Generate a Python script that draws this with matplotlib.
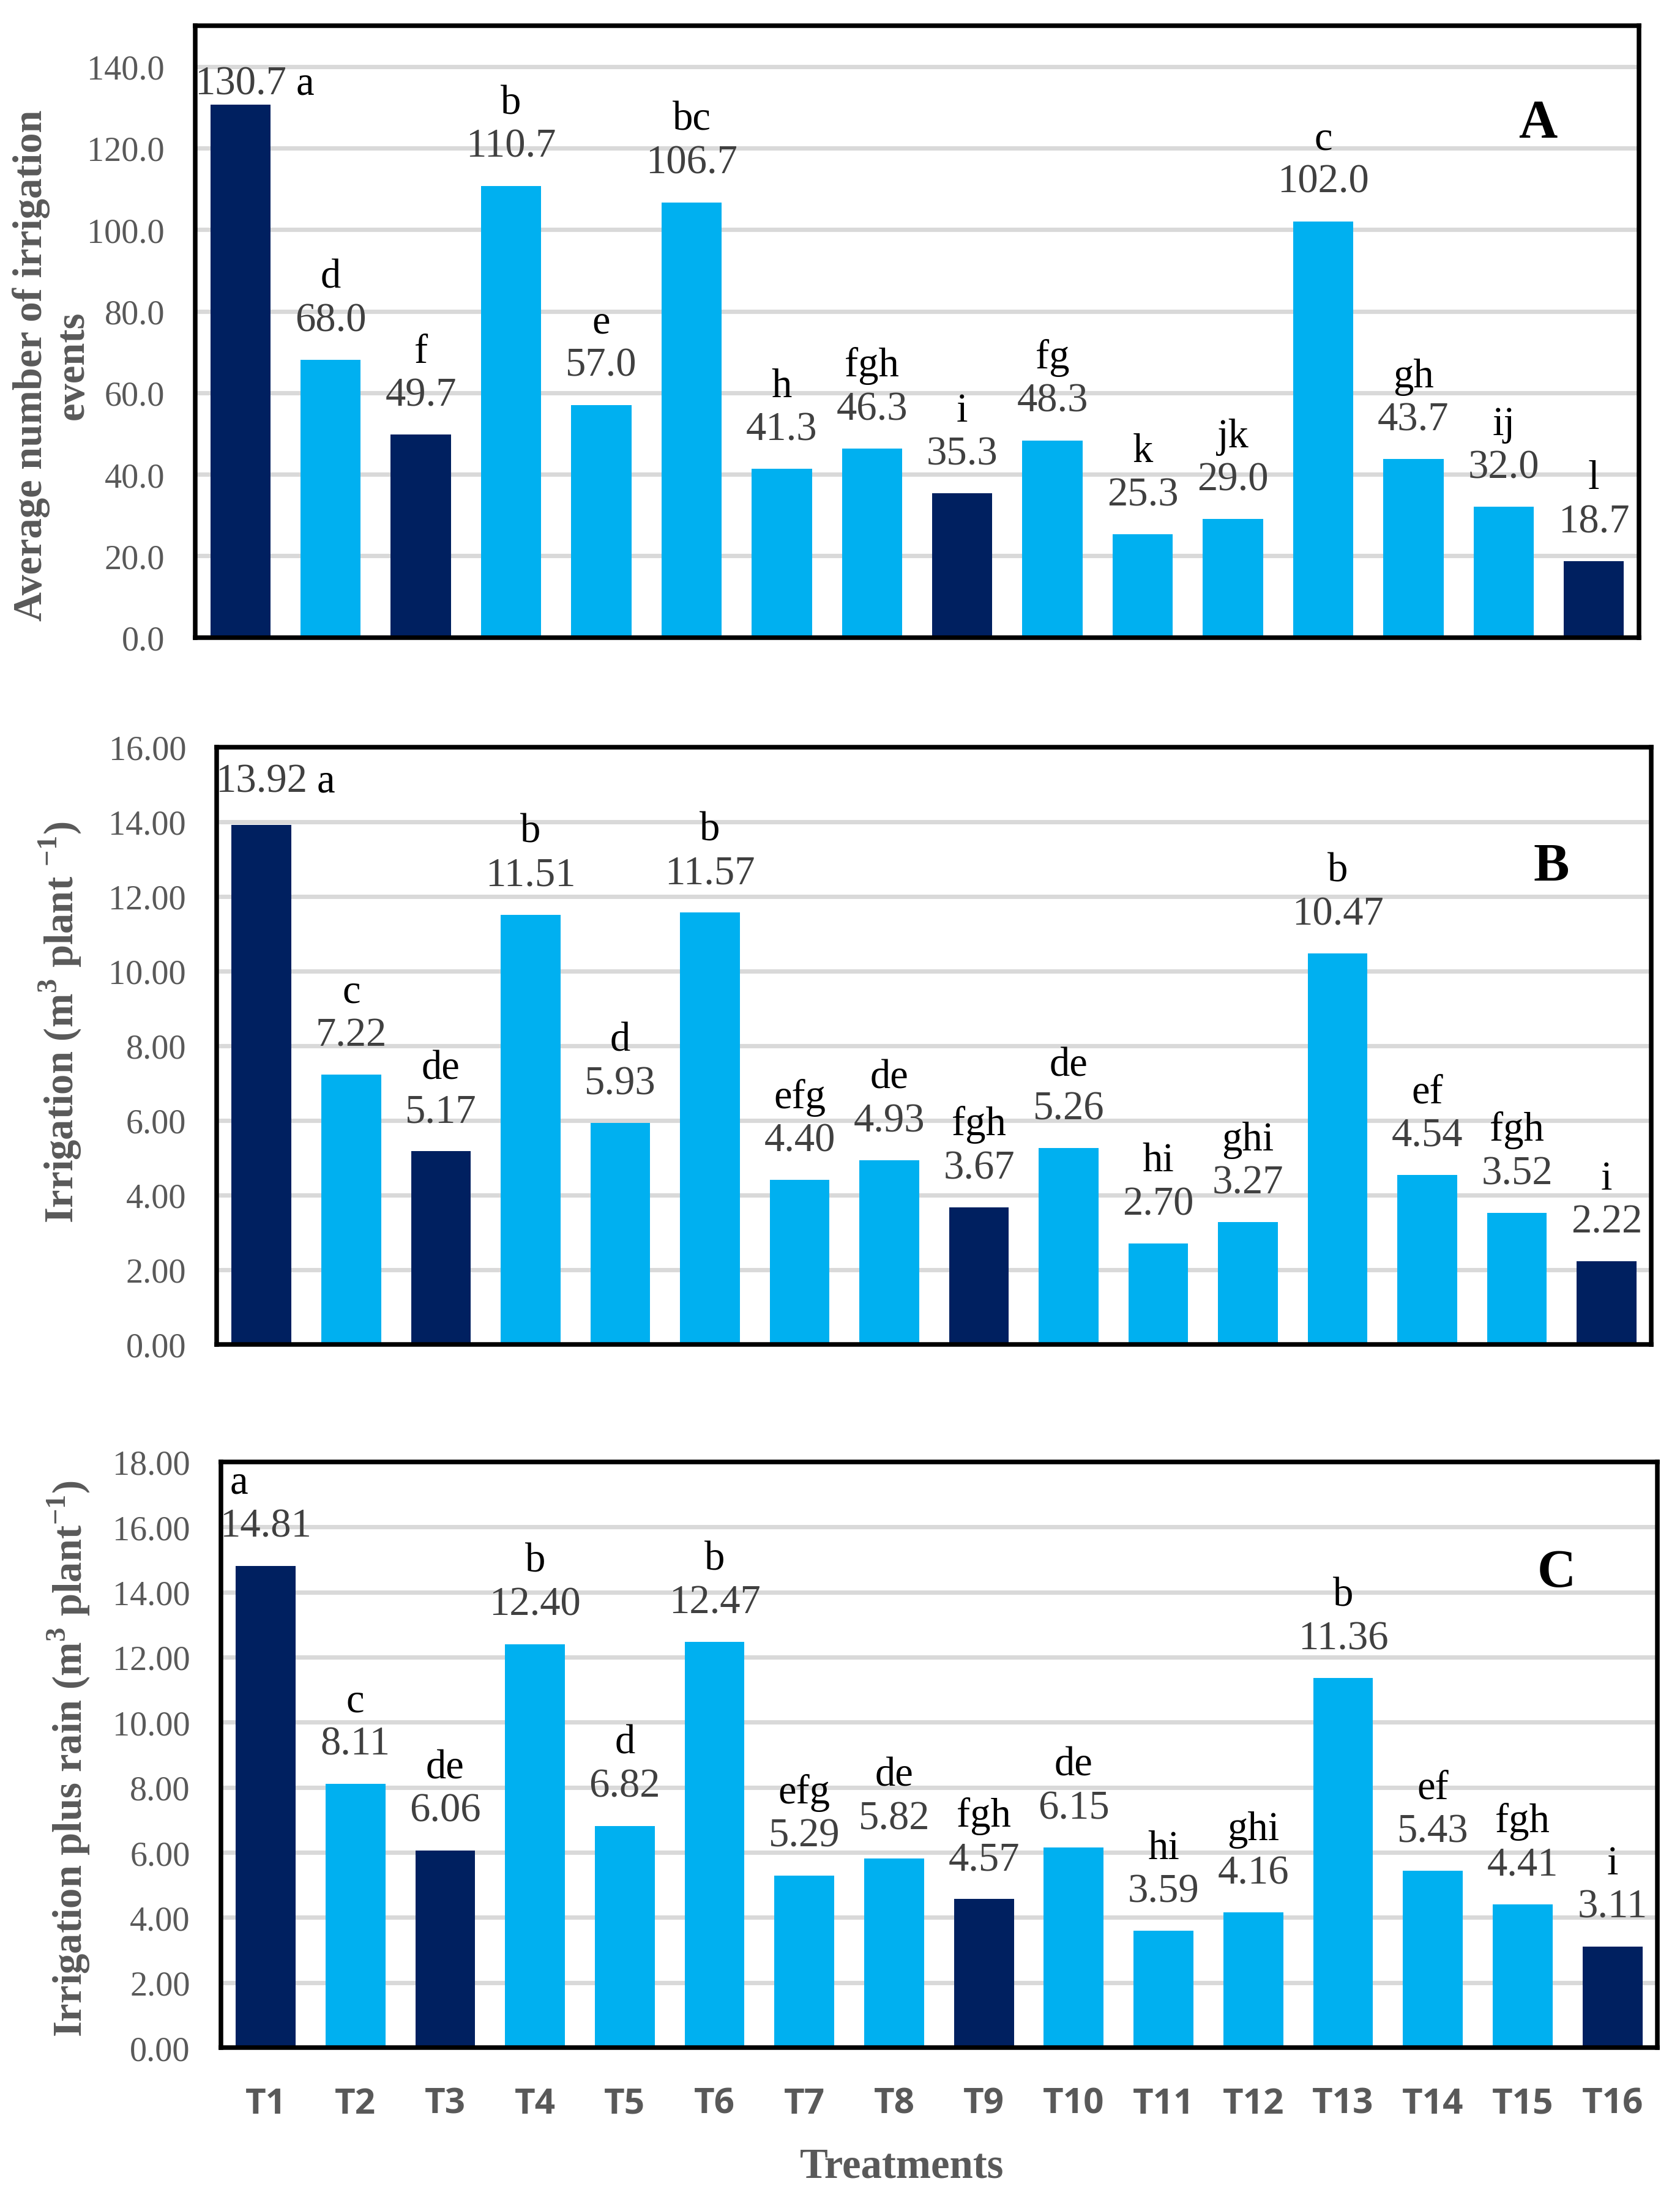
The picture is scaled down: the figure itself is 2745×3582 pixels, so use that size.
# Irrigation events / irrigation volume / irrigation plus rain per treatment

import numpy as np
import matplotlib
matplotlib.use('Agg')
import matplotlib.pyplot as plt

plt.rcParams['font.family'] = ['Liberation Serif', 'DejaVu Serif']
plt.rcParams['mathtext.fontset'] = 'custom'
plt.rcParams['mathtext.rm'] = 'Liberation Serif'
plt.rcParams['mathtext.bf'] = 'Liberation Serif:bold'

# data
treatments = ['T%d' % i for i in range(1, 17)]

events = [130.7, 68.0, 49.7, 110.7, 57.0, 106.7, 41.3, 46.3, 35.3, 48.3,
          25.3, 29.0, 102.0, 43.7, 32.0, 18.7]
events_letters = ['a', 'd', 'f', 'b', 'e', 'bc', 'h', 'fgh', 'i', 'fg',
                  'k', 'jk', 'c', 'gh', 'ij', 'l']

irrigation = [13.92, 7.22, 5.17, 11.51, 5.93, 11.57, 4.40, 4.93, 3.67, 5.26,
              2.70, 3.27, 10.47, 4.54, 3.52, 2.22]
irrigation_letters = ['a', 'c', 'de', 'b', 'd', 'b', 'efg', 'de', 'fgh', 'de',
                      'hi', 'ghi', 'b', 'ef', 'fgh', 'i']

irr_rain = [14.81, 8.11, 6.06, 12.40, 6.82, 12.47, 5.29, 5.82, 4.57, 6.15,
            3.59, 4.16, 11.36, 5.43, 4.41, 3.11]
irr_rain_letters = ['a', 'c', 'de', 'b', 'd', 'b', 'efg', 'de', 'fgh', 'de',
                    'hi', 'ghi', 'b', 'ef', 'fgh', 'i']

dark = ['T1', 'T3', 'T9', 'T16']

navy = '#002060'
light = '#00B0F0'
grey = '#595959'

fig = plt.figure(figsize=(9.15, 11.9433), dpi=300)

ax_a = fig.add_axes([0.1162, 0.709, 0.9756 - 0.1162, 0.988 - 0.709])
ax_b = fig.add_axes([0.129, 0.3866, 0.983 - 0.129, 0.659 - 0.3866])
ax_c = fig.add_axes([0.1314, 0.0658, 0.9865 - 0.1314, 0.333 - 0.0658])

x = np.arange(len(treatments))
colors = [navy if t in dark else light for t in treatments]


def draw_panel(ax, values, letters, ymax, step, fmt, panel, panel_y, first):
    ax.set_axisbelow(True)
    ax.yaxis.grid(True, color='#D9D9D9', linewidth=1.7)
    ax.bar(x, values, width=0.667, color=colors, zorder=2)
    ax.set_xlim(-0.5, len(x) - 0.5)
    ax.set_ylim(0, ymax)
    ax.set_yticks(np.arange(0, ymax + 0.001, step))
    ax.yaxis.set_major_formatter(plt.FormatStrFormatter(fmt))
    ax.tick_params(axis='y', length=0, pad=12, labelsize=13.5, labelcolor=grey)
    ax.tick_params(axis='x', length=0)
    for s in ax.spines.values():
        s.set_linewidth(1.8)
        s.set_color('black')

    for i, (v, lt) in enumerate(zip(values, letters)):
        vtxt = fmt % v
        if i == 0 and first is not None:
            # value and letter on one line next to each other
            ax.annotate(vtxt, (i, v), xytext=(0, first), textcoords='offset points',
                        ha='center', va='baseline', fontsize=16, color='#404040')
            ax.annotate(lt, (i + 0.72, v), xytext=(0, first), textcoords='offset points',
                        ha='center', va='baseline', fontsize=16, color='black')
        else:
            dx = -0.3 if (i == 0) else 0
            ax.annotate(vtxt, (i, v), xytext=(0, 11.5), textcoords='offset points',
                        ha='center', va='baseline', fontsize=16, color='#404040')
            ax.annotate(lt, (i + dx, v), xytext=(0, 28.5), textcoords='offset points',
                        ha='center', va='baseline', fontsize=16, color='black')

    ax.text(0.93, panel_y, panel, transform=ax.transAxes, ha='center', va='center',
            fontsize=21, fontweight='bold', color='black')


draw_panel(ax_a, events, events_letters, 150, 20, '%.1f', 'A', 0.84, 4)
draw_panel(ax_b, irrigation, irrigation_letters, 16, 2, '%.2f', 'B', 0.80, 13)
draw_panel(ax_c, irr_rain, irr_rain_letters, 18, 2, '%.2f', 'C', 0.81, None)

ax_a.set_xticks([])
ax_b.set_xticks([])
ax_c.set_xticks(x)
ax_c.set_xticklabels(treatments, fontfamily='Open Sans', fontweight='bold',
                     fontsize=14, color=grey)
ax_c.tick_params(axis='x', pad=15)

# axis titles
fig.text(0.031, 0.8334, 'Average number of irrigation\nevents', rotation=90,
         ha='center', va='center', multialignment='center', fontsize=16,
         fontweight='bold', color=grey, linespacing=1.15)
fig.text(0.0357, 0.5336, r'Irrigation (m$^{\mathbf{3}}$ plant $^{\mathbf{-1}}$)', rotation=90,
         ha='center', va='center', fontsize=16, fontweight='bold', color=grey)
fig.text(0.0408, 0.198, r'Irrigation plus rain (m$^{\mathbf{3}}$ plant$^{\mathbf{-1}}$)', rotation=90,
         ha='center', va='center', fontsize=16, fontweight='bold', color=grey)
fig.text(0.537, 0.0117, 'Treatments', ha='center', va='center', fontsize=16.5,
         fontweight='bold', color=grey)

fig.savefig('out.png', dpi=300)
